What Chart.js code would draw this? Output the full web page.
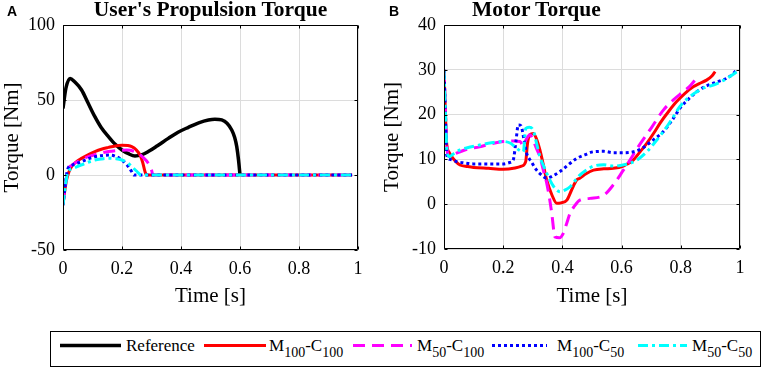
<!DOCTYPE html>
<html>
<head>
<meta charset="utf-8">
<script src="https://cdn.jsdelivr.net/npm/chart.js@4.4.1/dist/chart.umd.min.js"></script>
<style>
  body { margin: 0; background: #fff; }
  #page { position: relative; width: 765px; height: 371px; overflow: hidden; font-family: 'Liberation Serif', 'Times New Roman', serif; color: #000; }
  .wrap { position: absolute; top: 0; height: 310px; }
  .ttl { position: absolute; top: -1px; font-weight: bold; font-size: 21.5px; line-height: 1; white-space: nowrap; }
  .tag { position: absolute; top: 4px; font-family: 'Liberation Sans', Arial, sans-serif; font-weight: bold; font-size: 14px; line-height: 1; }
  #legend { position: absolute; left: 50px; top: 331px; width: 711px; height: 36px; border: 1px solid #000; box-sizing: border-box; }
  #legend svg { position: absolute; left: -1px; top: -1px; }
  .lab { position: absolute; top: 337px; font-size: 17px; line-height: 1; white-space: nowrap; }
  .lab sub { font-size: 14px; vertical-align: -6px; line-height: 0; }
</style>
</head>
<body>
<div id="page">
  <div class="wrap" style="left:0; width:380px;"><canvas id="propChart"></canvas></div>
  <div class="wrap" style="left:380px; width:385px;"><canvas id="motorChart"></canvas></div>

  <div class="tag" style="left:7px;">A</div>
  <div class="tag" style="left:389px;">B</div>
  <div class="ttl" style="left:63px; width:295px; text-align:center;">User's Propulsion Torque</div>
  <div class="ttl" style="left:472px;">Motor Torque</div>

  <div id="legend">
    <svg width="711" height="36">
      <line x1="10" y1="14.5" x2="71" y2="14.5" stroke="#000" stroke-width="3.5"/>
      <line x1="154" y1="14.5" x2="216" y2="14.5" stroke="#ff0000" stroke-width="3"/>
      <line x1="303" y1="14.5" x2="362" y2="14.5" stroke="#ff00ff" stroke-width="3" stroke-dasharray="12 7"/>
      <line x1="442" y1="14.5" x2="497" y2="14.5" stroke="#0000ff" stroke-width="3" stroke-dasharray="3 3"/>
      <line x1="588" y1="14.5" x2="637" y2="14.5" stroke="#00ffff" stroke-width="3" stroke-dasharray="10 4 3 4"/>
    </svg>
  </div>
  <div class="lab" style="left:126px;">Reference</div>
  <div class="lab" style="left:269px;">M<sub>100</sub>-C<sub>100</sub></div>
  <div class="lab" style="left:417px;">M<sub>50</sub>-C<sub>100</sub></div>
  <div class="lab" style="left:557px;">M<sub>100</sub>-C<sub>50</sub></div>
  <div class="lab" style="left:692px;">M<sub>50</sub>-C<sub>50</sub></div>
</div>

<script>
// ---- A: user's propulsion torque (time [s], torque [Nm]) ----
var propRefT = [0, 0.01, 0.024, 0.04, 0.063, 0.085, 0.108, 0.13, 0.154, 0.177, 0.2, 0.222, 0.244, 0.266, 0.289, 0.32, 0.357, 0.39, 0.425, 0.46, 0.493, 0.515, 0.538, 0.556, 0.572, 0.582, 0.589, 0.595, 0.6];
var propRefV = [44.4, 58, 64.4, 62, 56.7, 48, 38.9, 31.5, 25.6, 20.5, 16.7, 14.2, 12.7, 13.4, 15.6, 19.5, 24.4, 28.5, 31.8, 34.8, 36.7, 37.2, 36.7, 34.5, 30, 25, 18.9, 10, 0];

var propM100C100T = [0, 0.005, 0.012, 0.02, 0.029, 0.045, 0.063, 0.085, 0.108, 0.13, 0.154, 0.177, 0.2, 0.22, 0.233, 0.248, 0.261, 0.27, 0.278, 0.284, 0.98];
var propM100C100V = [-20, -12, -3.3, 2, 5.6, 8.8, 11.1, 13.5, 15.6, 17.2, 18.4, 19.4, 19.8, 19.6, 18.9, 16.8, 13.3, 8.5, 2.2, 0, 0];

var propM50C100T = [0, 0.005, 0.016, 0.03, 0.05, 0.086, 0.12, 0.154, 0.19, 0.216, 0.25, 0.27, 0.289, 0.3, 0.305, 0.98];
var propM50C100V = [-20, -11, 3, 6.5, 9, 12.2, 14.2, 15.6, 16.4, 16.7, 15, 12, 7.8, 3.3, 0, 0];

var propM100C50T = [0, 0.005, 0.016, 0.03, 0.063, 0.085, 0.108, 0.135, 0.16, 0.18, 0.2, 0.218, 0.233, 0.24, 0.98];
var propM100C50V = [-20, -11, 4, 6.5, 8.9, 10.8, 12.2, 13, 13.3, 12.3, 10, 6.5, 2.2, 0, 0];

var propM50C50T = [0, 0.005, 0.016, 0.035, 0.063, 0.085, 0.108, 0.13, 0.154, 0.18, 0.2, 0.218, 0.233, 0.25, 0.265, 0.98];
var propM50C50V = [-20, -12, 1.5, 4.5, 6.7, 8.5, 10, 10.7, 11.1, 10.9, 10, 8.2, 5.6, 2.5, 0, 0];

// ---- B: motor torque ----
var motM100C100T = [0, 0.004, 0.009, 0.018, 0.026, 0.04, 0.054, 0.08, 0.1, 0.15, 0.2, 0.24, 0.262, 0.276, 0.282, 0.29, 0.302, 0.313, 0.324, 0.335, 0.347, 0.365, 0.381, 0.395, 0.415, 0.43, 0.448, 0.459, 0.48, 0.505, 0.54, 0.572, 0.606, 0.62, 0.64, 0.66, 0.685, 0.71, 0.73, 0.76, 0.786, 0.815, 0.842, 0.865, 0.887, 0.905, 0.916];
var motM100C100V = [30, 22, 13.6, 11.5, 10.6, 9.5, 8.75, 8.4, 8.2, 8, 7.8, 8.1, 8.5, 9.5, 13.5, 15.5, 15.8, 14.5, 12.1, 9, 5.4, 2, 0.2, 0.3, 0.9, 3, 5.4, 5.8, 6.8, 7.6, 7.9, 8, 8.5, 9, 9.9, 11.5, 13.6, 16, 18.1, 20.8, 22.9, 24.8, 26.2, 27, 27.7, 28.6, 29.6];

var motM50C100T = [0, 0.005, 0.01, 0.018, 0.035, 0.054, 0.08, 0.12, 0.16, 0.2, 0.235, 0.257, 0.268, 0.278, 0.29, 0.3, 0.312, 0.324, 0.336, 0.347, 0.356, 0.364, 0.375, 0.39, 0.403, 0.415, 0.426, 0.44, 0.459, 0.493, 0.54, 0.572, 0.606, 0.63, 0.656, 0.7, 0.741, 0.775, 0.808, 0.83, 0.848];
var motM50C100V = [30, 20, 12.5, 10.6, 11.2, 11.7, 12.3, 12.8, 13.5, 14, 14.1, 14, 13, 14.5, 15.5, 14.5, 12.5, 10.6, 7.5, 4.7, 1.5, -2, -7.3, -7.5, -6.5, -4.2, -2, -0.5, 0.9, 1.3, 2, 4.3, 7.6, 10, 12.8, 17, 21, 23.3, 25.1, 26.3, 27.7];

var motM100C50T = [0, 0.005, 0.009, 0.02, 0.043, 0.07, 0.099, 0.15, 0.2, 0.222, 0.234, 0.243, 0.251, 0.26, 0.27, 0.279, 0.295, 0.313, 0.33, 0.347, 0.37, 0.392, 0.42, 0.448, 0.475, 0.505, 0.54, 0.572, 0.606, 0.64, 0.665, 0.685, 0.71, 0.741, 0.77, 0.797, 0.825, 0.854, 0.88, 0.91, 0.935, 0.955, 0.975, 0.989];
var motM100C50V = [30, 20, 11, 10, 9.5, 9.2, 9, 9, 9, 9.3, 9.9, 14, 17.7, 17.5, 14.5, 11.4, 9.5, 7.6, 6.5, 5.8, 6.4, 7.3, 8.8, 10.2, 11, 11.7, 11.8, 11.5, 11.5, 11.7, 12.3, 13.2, 14.5, 16.2, 18.7, 21.4, 23.4, 25.1, 26.2, 27, 27.6, 28.1, 29, 30];

var motM50C50T = [0, 0.005, 0.01, 0.018, 0.035, 0.054, 0.085, 0.12, 0.16, 0.2, 0.225, 0.245, 0.258, 0.268, 0.276, 0.288, 0.3, 0.312, 0.324, 0.336, 0.347, 0.365, 0.38, 0.392, 0.41, 0.426, 0.44, 0.459, 0.48, 0.505, 0.54, 0.572, 0.6, 0.628, 0.655, 0.685, 0.71, 0.741, 0.77, 0.797, 0.825, 0.854, 0.88, 0.91, 0.94, 0.966, 0.989];
var motM50C50V = [30, 20, 12, 10.6, 11.4, 12.1, 12.7, 13.2, 13.7, 14, 13.6, 12.5, 11.9, 11.7, 16.9, 17.2, 16.7, 13.8, 10.6, 8.6, 6.9, 4.5, 3.2, 2.8, 3.2, 3.9, 5, 6.5, 7.6, 8.5, 8.8, 8.5, 8.7, 9.1, 10, 11.7, 13.6, 16.2, 19, 21.8, 23.7, 25.1, 26, 26.6, 27.5, 28.5, 29.5];

var seriesNames = ['Reference', 'M100-C100', 'M50-C100', 'M100-C50', 'M50-C50'];

function pts(ts, vs) {
  return ts.map(function (t, i) { return { x: t, y: vs[i] }; });
}

// line look for each series (colour, width, dash, draw order)
var looks = {
  'Reference': { color: '#000000', width: 3.5, dash: [], order: 5 },
  'M100-C100': { color: '#ff0000', width: 3, dash: [], order: 4 },
  'M50-C100': { color: '#ff00ff', width: 3, dash: [12, 7], order: 3 },
  'M100-C50': { color: '#0000ff', width: 3, dash: [3, 3], order: 2 },
  'M50-C50': { color: '#00ffff', width: 3, dash: [10, 4, 3, 4], order: 1 }
};

function dataset(name, ts, vs) {
  var lk = looks[name];
  return {
    label: name,
    data: pts(ts, vs),
    borderColor: lk.color,
    borderWidth: lk.width,
    borderDash: lk.dash,
    order: lk.order,
    pointRadius: 0,
    fill: false,
    cubicInterpolationMode: 'monotone'
  };
}

// black box with inward ticks, like the matlab axes
var boxPlugin = {
  id: 'boxPlugin',
  afterDatasetsDraw: function (chart) {
    var ctx = chart.ctx, a = chart.chartArea, xs = chart.scales.x, ys = chart.scales.y;
    var L = Math.round(a.left) + 0.5, R = Math.round(a.right) - 0.5;
    var T = Math.round(a.top) + 0.5, B = Math.round(a.bottom) - 0.5;
    ctx.save();
    ctx.strokeStyle = '#000';
    ctx.lineWidth = 1;
    ctx.beginPath();
    xs.ticks.forEach(function (t) {
      var p = Math.round(xs.getPixelForValue(t.value)) + 0.5;
      ctx.moveTo(p, B); ctx.lineTo(p, B - 3);
      ctx.moveTo(p, T); ctx.lineTo(p, T + 3);
    });
    ys.ticks.forEach(function (t) {
      var p = Math.round(ys.getPixelForValue(t.value)) + 0.5;
      ctx.moveTo(L, p); ctx.lineTo(L + 3, p);
      ctx.moveTo(R, p); ctx.lineTo(R - 3, p);
    });
    ctx.rect(L, T, R - L, B - T);
    ctx.stroke();
    ctx.restore();
  }
};

function makeChart(id, datasets, yMin, yMax, yStep, yWidth, padRight, xHeight) {
  var serif = "'Liberation Serif', 'Times New Roman', serif";
  return new Chart(document.getElementById(id), {
    type: 'line',
    data: { datasets: datasets },
    plugins: [boxPlugin],
    options: {
      responsive: true,
      maintainAspectRatio: false,
      animation: false,
      layout: { padding: { top: 25, right: padRight, bottom: 0, left: 0 } },
      plugins: { legend: { display: false }, tooltip: { enabled: false }, title: { display: false } },
      scales: {
        x: {
          type: 'linear', min: 0, max: 1,
          grid: { color: '#dcdcdc', drawTicks: false },
          border: { display: false },
          ticks: {
            stepSize: 0.2, color: '#000', font: { family: serif, size: 18 }, padding: 8, maxRotation: 0, autoSkip: false,
            callback: function (v) { return String(Math.round(v * 10) / 10); }
          },
          title: { display: true, text: 'Time [s]', color: '#000', font: { family: serif, size: 21 }, padding: { top: 0, bottom: 1 } },
          afterFit: function (s) { s.height = xHeight; }
        },
        y: {
          min: yMin, max: yMax,
          grid: { color: '#dcdcdc', drawTicks: false },
          border: { display: false },
          ticks: { stepSize: yStep, color: '#000', font: { family: serif, size: 18 }, padding: 8 },
          title: { display: true, text: 'Torque [Nm]', color: '#000', font: { family: serif, size: 21 }, padding: { top: 0, bottom: 0 } },
          afterFit: function (s) { s.width = yWidth; }
        }
      }
    }
  });
}

makeChart('propChart', [
  dataset(seriesNames[0], propRefT, propRefV),
  dataset(seriesNames[1], propM100C100T, propM100C100V),
  dataset(seriesNames[2], propM50C100T, propM50C100V),
  dataset(seriesNames[3], propM100C50T, propM100C50V),
  dataset(seriesNames[4], propM50C50T, propM50C50V)
], -50, 100, 50, 63, 22, 60);

makeChart('motorChart', [
  dataset(seriesNames[1], motM100C100T, motM100C100V),
  dataset(seriesNames[2], motM50C100T, motM50C100V),
  dataset(seriesNames[3], motM100C50T, motM100C50V),
  dataset(seriesNames[4], motM50C50T, motM50C50V)
], -10, 40, 10, 64, 25, 61);
</script>
</body>
</html>
